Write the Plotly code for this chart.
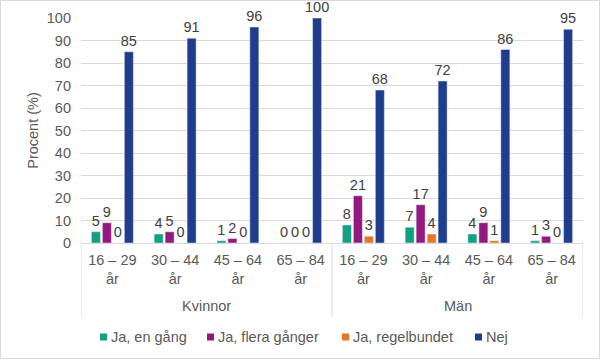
import plotly.graph_objects as go

genders = ["Kvinnor", "Män"]
ages = ["16 – 29<br>år", "30 – 44<br>år", "45 – 64<br>år", "65 – 84<br>år"]
tick_labels = ages * len(genders)

series_names = ["Ja, en gång", "Ja, flera gånger", "Ja, regelbundet", "Nej"]
en_gang = [5, 4, 1, 0, 8, 7, 4, 1]
flera_ganger = [9, 5, 2, 0, 21, 17, 9, 3]
regelbundet = [0, 0, 0, 0, 3, 4, 1, 0]
nej = [85, 91, 96, 100, 68, 72, 86, 95]
colors = ["#12A082", "#94197F", "#E87524", "#1F3C8D"]

W, H = 601, 360
L, R, T, B = 81, 18, 18, 117
pw, ph = W - L - R, H - T - B
FS = 14.5
TXT = "#595959"
GRID = "#D9D9D9"


def px(x):
    return (x - L) / pw


def py(y):
    return (T + ph - y) / ph


xs = list(range(len(tick_labels)))

fig = go.Figure()
for name, vals, col in zip(series_names, [en_gang, flera_ganger, regelbundet, nej], colors):
    fig.add_trace(go.Bar(
        x=xs, y=vals, name=name, marker_color=col,
        text=[str(v) for v in vals], textposition="outside", constraintext="none",
        textfont=dict(size=FS, color="#404040"), cliponaxis=False,
    ))

fig.update_layout(
    width=W, height=H,
    margin=dict(l=L, r=R, t=T, b=B, autoexpand=False),
    paper_bgcolor="white", plot_bgcolor="white",
    font=dict(family="Liberation Sans, Arial, sans-serif", size=FS, color=TXT),
    barmode="group", bargap=0.30, bargroupgap=0.18,
    showlegend=False,
)
fig.update_yaxes(range=[0, 100], dtick=10, showgrid=True, gridcolor=GRID, gridwidth=1,
                 zeroline=False, showline=False, ticks="", tickfont=dict(size=FS, color=TXT),
                 automargin=False, ticklabelstandoff=9,
                 title=dict(text="Procent (%)", font=dict(size=FS, color=TXT), standoff=4))
fig.update_xaxes(range=[-0.5, len(xs) - 0.5], tickvals=xs, ticktext=tick_labels,
                 showline=True, linecolor=GRID, ticks="", showgrid=False, zeroline=False,
                 automargin=False, ticklabelstandoff=4, tickfont=dict(size=FS, color=TXT))

# group labels and dividers
n = len(ages)
for gi, g in enumerate(genders):
    fig.add_annotation(xref="x", yref="paper", x=gi * n + (n - 1) / 2, y=py(306),
                       text=g, showarrow=False, xanchor="center", yanchor="middle",
                       font=dict(size=FS, color=TXT))
for gi in range(len(genders) + 1):
    fig.add_shape(type="line", xref="x", yref="paper", x0=gi * n - 0.5, x1=gi * n - 0.5,
                  y0=0, y1=py(317), line=dict(color=GRID, width=1))

# manual legend (layout positions)
leg_sq_x = [100, 207, 342, 475]
leg_y = 337
for name, col, sx in zip(series_names, colors, leg_sq_x):
    fig.add_shape(type="rect", xref="paper", yref="paper",
                  x0=px(sx), x1=px(sx + 7), y0=py(leg_y + 3.5), y1=py(leg_y - 3.5),
                  fillcolor=col, line=dict(width=0))
    fig.add_annotation(xref="paper", yref="paper", x=px(sx + 9), y=py(leg_y),
                       text=name, showarrow=False, xanchor="left", yanchor="middle",
                       font=dict(size=FS, color=TXT))

fig.add_shape(type="rect", xref="paper", yref="paper",
              x0=px(0.5), x1=px(599.5), y0=py(358.5), y1=py(0.5),
              line=dict(color=GRID, width=1), fillcolor="rgba(0,0,0,0)", layer="below")

fig.write_html("out.html", config={"displayModeBar": False},
               post_script="document.body.style.margin='0';document.body.style.padding='0';")
